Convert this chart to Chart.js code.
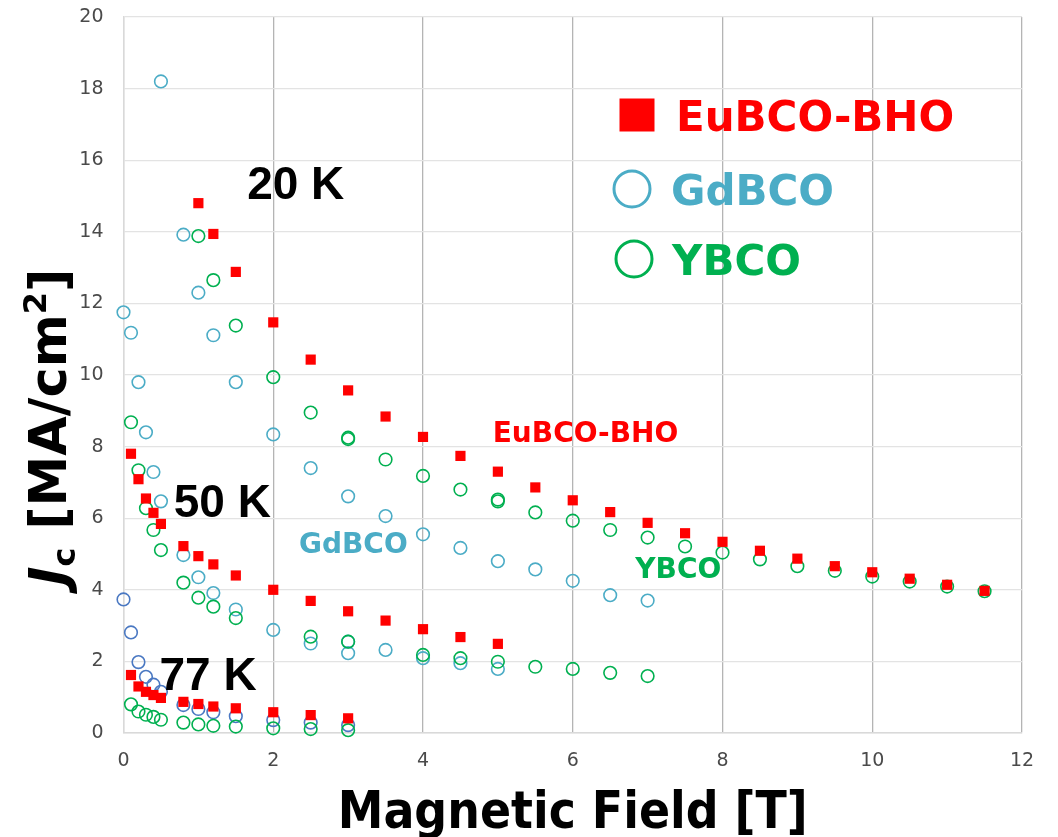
<!DOCTYPE html>
<html>
<head>
<meta charset="utf-8">
<script src="https://cdn.jsdelivr.net/npm/chart.js@4.4.1/dist/chart.umd.min.js"></script>
<style>
  html, body { margin: 0; padding: 0; background: #fff; }
  #wrap { width: 1058px; height: 837px; }
</style>
</head>
<body>
<div id="wrap"><canvas id="myChart" width="1058" height="837"></canvas></div>
<script>
// Jc vs applied field, three conductors at 20 K, 50 K and 77 K
const xTicks = [0, 2, 4, 6, 8, 10, 12];
const yTicks = [0, 2, 4, 6, 8, 10, 12, 14, 16, 18, 20];

// EuBCO-BHO
const euField20 = [1.0, 1.2, 1.5, 2, 2.5, 3, 3.5, 4, 4.5, 5, 5.5, 6, 6.5, 7, 7.5, 8, 8.5, 9, 9.5, 10, 10.5, 11, 11.5];
const euJc20 = [14.80, 13.94, 12.88, 11.47, 10.43, 9.57, 8.84, 8.27, 7.74, 7.30, 6.86, 6.50, 6.17, 5.87, 5.58, 5.34, 5.09, 4.87, 4.66, 4.49, 4.31, 4.14, 3.97];
const euField50 = [0.1, 0.2, 0.3, 0.4, 0.5, 0.8, 1.0, 1.2, 1.5, 2, 2.5, 3, 3.5, 4, 4.5, 5];
const euJc50 = [7.80, 7.09, 6.55, 6.15, 5.84, 5.22, 4.94, 4.71, 4.40, 4.00, 3.69, 3.40, 3.14, 2.90, 2.68, 2.49];
const euField77 = [0.1, 0.2, 0.3, 0.4, 0.5, 0.8, 1.0, 1.2, 1.5, 2, 2.5, 3];
const euJc77 = [1.62, 1.30, 1.15, 1.06, 0.98, 0.87, 0.81, 0.74, 0.69, 0.58, 0.50, 0.41];

// YBCO
const yField20 = [1.0, 1.2, 1.5, 2, 2.5, 3, 3, 3.5, 4, 4.5, 5, 5, 5.5, 6, 6.5, 7, 7.5, 8, 8.5, 9, 9.5, 10, 10.5, 11, 11.5];
const yJc20 = [13.88, 12.65, 11.38, 9.94, 8.95, 8.21, 8.25, 7.64, 7.18, 6.80, 6.47, 6.52, 6.16, 5.93, 5.67, 5.46, 5.21, 5.04, 4.85, 4.66, 4.53, 4.37, 4.23, 4.09, 3.96];
const yField50 = [0.1, 0.2, 0.3, 0.4, 0.5, 0.8, 1.0, 1.2, 1.5, 2.5, 3, 4, 4.5, 5, 5.5, 6, 6.5, 7];
const yJc50 = [8.68, 7.34, 6.28, 5.67, 5.11, 4.20, 3.78, 3.53, 3.21, 2.69, 2.55, 2.18, 2.09, 1.99, 1.85, 1.79, 1.68, 1.59];
const yField77 = [0.1, 0.2, 0.3, 0.4, 0.5, 0.8, 1.0, 1.2, 1.5, 2, 2.5, 3];
const yJc77 = [0.80, 0.60, 0.51, 0.45, 0.37, 0.29, 0.24, 0.20, 0.18, 0.13, 0.11, 0.08];

// GdBCO
const gdField20 = [0.5, 0.8, 1.0, 1.2, 1.5, 2, 2.5, 3, 3.5, 4, 4.5, 5, 5.5, 6, 6.5, 7];
const gdJc20 = [18.20, 13.92, 12.30, 11.11, 9.80, 8.34, 7.40, 6.61, 6.06, 5.55, 5.17, 4.80, 4.57, 4.25, 3.85, 3.70];
const gdField50 = [0, 0.1, 0.2, 0.3, 0.4, 0.5, 0.8, 1.0, 1.2, 1.5, 2, 2.5, 3, 3, 3.5, 4, 4.5, 5];
const gdJc50 = [11.75, 11.18, 9.80, 8.40, 7.29, 6.47, 4.97, 4.35, 3.91, 3.45, 2.88, 2.50, 2.55, 2.23, 2.32, 2.09, 1.95, 1.79];
const gdField77 = [0, 0.1, 0.2, 0.3, 0.4, 0.5, 0.8, 1.0, 1.2, 1.5, 2, 2.5, 3];
const gdJc77 = [3.73, 2.81, 1.98, 1.57, 1.35, 1.15, 0.78, 0.67, 0.58, 0.47, 0.36, 0.29, 0.22];

const RED = '#ff0000';
const GREEN = '#00b050';
const BLUE = '#4bacc6';
const DARK_BLUE = '#4a78c2';

const pts = (xs, ys) => xs.map((v, i) => ({ x: v, y: ys[i] }));

const square = (label, data) => ({
  label, data: data, pointStyle: 'rect', pointRadius: 7.2, pointHoverRadius: 7.2,
  backgroundColor: RED, borderColor: RED, borderWidth: 0, showLine: false, clip: false
});
const ring = (label, data, color) => ({
  label, data: data, pointStyle: 'circle', pointRadius: 6.3, pointHoverRadius: 6.3,
  backgroundColor: 'rgba(0,0,0,0)', borderColor: color, borderWidth: 1.6, showLine: false, clip: false
});

// text placed in data coordinates
const notes = [
  { text: '20 K', x: 2.30, y: 15.38, color: '#000', size: 46, family: '"Liberation Sans", Arial, sans-serif' },
  { text: '50 K', x: 1.32, y: 6.51, color: '#000', size: 46, family: '"Liberation Sans", Arial, sans-serif' },
  { text: '77 K', x: 1.13, y: 1.65, color: '#000', size: 46, family: '"Liberation Sans", Arial, sans-serif' },
  { text: 'EuBCO-BHO', x: 6.17, y: 8.42, color: RED, size: 28, family: '"DejaVu Sans", Verdana, sans-serif' },
  { text: 'GdBCO', x: 3.07, y: 5.30, color: BLUE, size: 28, family: '"DejaVu Sans", Verdana, sans-serif' },
  { text: 'YBCO', x: 7.41, y: 4.60, color: GREEN, size: 28, family: '"DejaVu Sans", Verdana, sans-serif' }
];

const legendItems = [
  { text: 'EuBCO-BHO', color: RED, shape: 'square', cx: 637, cy: 115, tx: 676 },
  { text: 'GdBCO', color: BLUE, shape: 'ring', cx: 632, cy: 189, tx: 671 },
  { text: 'YBCO', color: GREEN, shape: 'ring', cx: 634, cy: 259, tx: 672 }
];

const decor = {
  id: 'decor',
  afterDatasetsDraw(chart) {
    const { ctx, scales } = chart;
    ctx.save();
    ctx.textAlign = 'center';
    ctx.textBaseline = 'alphabetic';
    notes.forEach((n) => {
      ctx.font = 'bold ' + n.size + 'px ' + n.family;
      ctx.fillStyle = n.color;
      ctx.fillText(n.text, scales.x.getPixelForValue(n.x), scales.y.getPixelForValue(n.y) + n.size * 0.36);
    });
    ctx.restore();
  },
  afterDraw(chart) {
    const ctx = chart.ctx;
    ctx.save();

    // legend
    ctx.textAlign = 'left';
    ctx.textBaseline = 'alphabetic';
    ctx.font = 'bold 42px "DejaVu Sans", Verdana, sans-serif';
    legendItems.forEach((it) => {
      ctx.fillStyle = it.color;
      ctx.strokeStyle = it.color;
      if (it.shape === 'square') {
        ctx.fillRect(it.cx - 17.5, it.cy - 16.5, 35, 33);
      } else {
        ctx.lineWidth = 3;
        ctx.beginPath();
        ctx.arc(it.cx, it.cy, 18, 0, Math.PI * 2);
        ctx.stroke();
      }
      ctx.fillText(it.text, it.tx, it.cy + 15.5);
    });

    // x axis title
    const area = chart.chartArea;
    ctx.fillStyle = '#000';
    ctx.textAlign = 'center';
    ctx.font = 'bold 51px "DejaVu Sans Condensed", "DejaVu Sans", sans-serif';
    ctx.fillText('Magnetic Field [T]', (area.left + area.right) / 2, 828);

    // y axis title: J_c [MA/cm^2]
    const fam = '"DejaVu Sans", Verdana, sans-serif';
    const runs = [
      { t: 'J', f: 'italic bold 51px ' + fam, dy: 0 },
      { t: 'c', f: 'bold 32px ' + fam, dy: 9 },
      { t: ' [MA/cm', f: 'bold 51px ' + fam, dy: 0 },
      { t: '2', f: 'bold 32px ' + fam, dy: -20 },
      { t: ']', f: 'bold 51px ' + fam, dy: 0 }
    ];
    let total = 0;
    runs.forEach((r) => { ctx.font = r.f; r.w = ctx.measureText(r.t).width; total += r.w; });
    ctx.translate(66, 427);
    ctx.rotate(-Math.PI / 2);
    ctx.textAlign = 'left';
    let pos = -total / 2;
    runs.forEach((r) => {
      ctx.font = r.f;
      ctx.fillText(r.t, pos, r.dy);
      pos += r.w;
    });
    ctx.restore();
  }
};

new Chart(document.getElementById('myChart'), {
  type: 'scatter',
  data: {
    datasets: [
      square('EuBCO-BHO 20 K', pts(euField20, euJc20)),
      square('EuBCO-BHO 50 K', pts(euField50, euJc50)),
      square('EuBCO-BHO 77 K', pts(euField77, euJc77)),
      ring('YBCO 20 K', pts(yField20, yJc20), GREEN),
      ring('YBCO 50 K', pts(yField50, yJc50), GREEN),
      ring('YBCO 77 K', pts(yField77, yJc77), GREEN),
      ring('GdBCO 20 K', pts(gdField20, gdJc20), BLUE),
      ring('GdBCO 50 K', pts(gdField50, gdJc50), BLUE),
      ring('GdBCO 77 K', pts(gdField77, gdJc77), DARK_BLUE)
    ]
  },
  options: {
    responsive: false,
    animation: false,
    events: [],
    layout: { padding: { top: 17, right: 36, left: 0, bottom: 0 } },
    plugins: {
      legend: { display: false },
      tooltip: { enabled: false }
    },
    scales: {
      x: {
        type: 'linear',
        min: xTicks[0],
        max: xTicks[xTicks.length - 1],
        afterBuildTicks: (s) => { s.ticks = xTicks.map((v) => ({ value: v })); },
        afterFit: (s) => { s.height = 104; s.paddingLeft = 0; s.paddingRight = 0; },
        grid: {
          drawTicks: false,
          lineWidth: 1.3,
          color: (c) => (c.tick && c.tick.value === 0 ? '#d9d9d9' : '#b4b4b4')
        },
        border: { color: '#d9d9d9', width: 1.5 },
        ticks: {
          padding: 17,
          color: '#4a4a4a',
          font: { family: '"DejaVu Sans", Verdana, sans-serif', size: 19 }
        }
      },
      y: {
        type: 'linear',
        min: yTicks[0],
        max: yTicks[yTicks.length - 1],
        afterBuildTicks: (s) => { s.ticks = yTicks.map((v) => ({ value: v })); },
        afterFit: (s) => { s.width = 123.5; s.paddingTop = 0; s.paddingBottom = 0; },
        grid: { drawTicks: false, color: '#e3e3e3', lineWidth: 1.3 },
        border: { color: '#d9d9d9', width: 1.5 },
        ticks: {
          padding: 20,
          color: '#4a4a4a',
          font: { family: '"DejaVu Sans", Verdana, sans-serif', size: 19 }
        }
      }
    }
  },
  plugins: [decor]
});
</script>
</body>
</html>
